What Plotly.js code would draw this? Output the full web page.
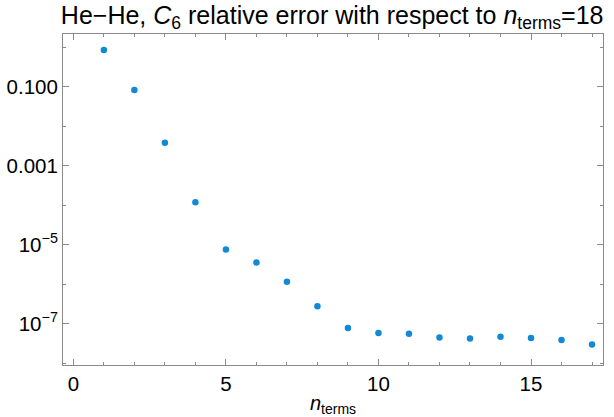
<!DOCTYPE html>
<html><head><meta charset="utf-8">
<script src="https://cdn.plot.ly/plotly-3.0.1.min.js"></script>
<style>html,body{margin:0;padding:0;background:#fff}</style>
</head><body><div id="plot" style="width:614px;height:417px"></div>
<script>
const nTerms = [1,2,3,4,5,6,7,8,9,10,11,12,13,14,15,16,17];
const relError = [0.855,0.083,0.00385,1.2e-4,7.6e-6,3.6e-6,1.17e-6,2.8e-7,7.9e-8,5.9e-8,5.6e-8,4.5e-8,4.3e-8,4.7e-8,4.4e-8,3.9e-8,3.0e-8];
const yTickVals = [0.1,0.001,1e-5,1e-7];
const yTickText = ['0.100','0.001','10<sup>−5</sup>','10<sup>−7</sup>'];
const yMinorVals = [1,0.01,1e-4,1e-6,1e-8];
const xTickVals = [0,5,10,15];
const xTickText = ['0','5','10','15'];
const xMinorVals = [1,2,3,4,6,7,8,9,11,12,13,14,16,17];

const axisColor = '#8a8a8a';
const fam = 'Liberation Sans, Arial, sans-serif';

Plotly.newPlot('plot', [{
  x: nTerms, y: relError, type:'scatter', mode:'markers',
  marker:{color:'#1289d6', size:6.5}
}], {
  width:614, height:417,
  margin:{l:63, r:11, t:34, b:52},
  paper_bgcolor:'#fff', plot_bgcolor:'#fff',
  showlegend:false,
  font:{family:fam, size:20, color:'#000'},
  title:{text:'He−He, <i>C</i><sub>6</sub> relative error with respect to <i>n</i><sub>terms</sub>=18',
    x:0.541, xanchor:'center', y:0.99, yanchor:'top', pad:{t:2}, font:{family:fam, size:25, color:'#000'}},
  xaxis:{range:[-0.34,17.36], tickmode:'array', tickvals:xTickVals, ticktext:xTickText,
    ticks:'inside', ticklen:6, tickcolor:axisColor, showline:true, linecolor:axisColor, linewidth:1,
    mirror:'allticks', showgrid:false, zeroline:false,
    minor:{tickmode:'array', tickvals:xMinorVals, ticks:'inside', ticklen:3, tickcolor:axisColor, showgrid:false},
    tickfont:{family:fam, size:20.5, color:'#000'},
    title:{text:'<i>n</i><sub>terms</sub>', standoff:4, font:{family:fam, size:20, color:'#000'}}},
  yaxis:{type:'log', range:[-8.04,0.337], tickmode:'array', tickvals:yTickVals, ticktext:yTickText,
    ticks:'inside', ticklen:6, tickcolor:axisColor, showline:true, linecolor:axisColor, linewidth:1,
    mirror:'allticks', showgrid:false, zeroline:false,
    minor:{tickmode:'array', tickvals:yMinorVals, ticks:'inside', ticklen:3, tickcolor:axisColor, showgrid:false},
    tickfont:{family:fam, size:20.5, color:'#000'}}
}, {displayModeBar:false, staticPlot:true});
</script></body></html>
